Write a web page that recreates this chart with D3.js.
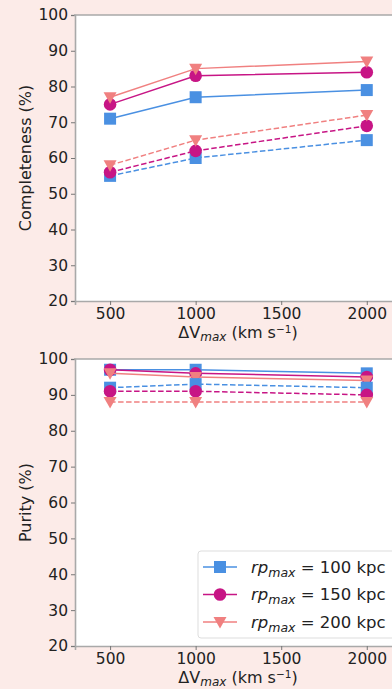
<!DOCTYPE html>
<html>
<head>
<meta charset="utf-8">
<script src="https://cdn.jsdelivr.net/npm/d3@7"></script>
<style>
  body { margin: 0; background: #fcebe8; }
  svg { display: block; font-family: "DejaVu Sans", sans-serif; }
</style>
</head>
<body>
<div id="chart"></div>
<script>
// x values (Delta V_max, km/s)
let dvmax = [500, 1000, 2000];
let yTicks = [20, 30, 40, 50, 60, 70, 80, 90, 100];
let xTicks = [500, 1000, 1500, 2000];

// series names (rp_max in kpc)
let rpNames = ['100', '150', '200'];

// completeness, solid and dashed
let compSolid100 = [71, 77, 79];
let compSolid150 = [75, 83, 84];
let compSolid200 = [77, 85, 87];
let compDash100 = [55, 60, 65];
let compDash150 = [56, 62, 69];
let compDash200 = [58, 65, 72];

// purity, solid and dashed
let purSolid100 = [97, 97, 96];
let purSolid150 = [97, 96, 95];
let purSolid200 = [96, 95, 94];
let purDash100 = [92, 93, 92];
let purDash150 = [91, 91, 90];
let purDash200 = [88, 88, 88];

let width = 392;
let height = 689;
let colors = { '100': '#4a90e2', '150': '#c71585', '200': '#f08080' };

let svg = d3.select('#chart')
    .append('svg')
    .attr('width', width)
    .attr('height', height);

svg.append('rect').attr('width', width).attr('height', height).attr('fill', '#fcebe8');

let x = d3.scaleLinear().domain([295, 2200]).range([75, 401]);

function marker(g, key, cx, cy) {
    let c = colors[key];
    if (key == '200') {
        g.append('path')
            .attr('d', 'M' + (cx - 6.5) + ',' + (cy - 5) + 'L' + (cx + 6.5) + ',' + (cy - 5) + 'L' + cx + ',' + (cy + 6.5) + 'Z')
            .attr('fill', c);
    } else if (key == '100') {
        g.append('rect').attr('x', cx - 6).attr('y', cy - 6).attr('width', 12).attr('height', 12).attr('fill', c);
    } else {
        g.append('circle').attr('cx', cx).attr('cy', cy).attr('r', 6.3).attr('fill', c);
    }
}

function panel(top, bottom, series, ylabel) {
    let y = d3.scaleLinear().domain([20, 100]).range([bottom, top]);
    let g = svg.append('g');

    g.append('rect')
        .attr('x', 75).attr('y', top)
        .attr('width', width - 75 + 10).attr('height', bottom - top)
        .attr('fill', 'white');

    let line = d3.line().x((d, i) => x(dvmax[i])).y(d => y(d));

    series.forEach(s => {
        g.append('path')
            .datum(s.values)
            .attr('d', line)
            .attr('fill', 'none')
            .attr('stroke', colors[s.key])
            .attr('stroke-width', 1.5)
            .attr('stroke-dasharray', s.dash ? '5.5,2.5' : null);
        s.values.forEach((v, i) => marker(g, s.key, x(dvmax[i]), y(v)));
    });

    // axes
    let ya = g.append('g').attr('transform', 'translate(75,0)')
        .call(d3.axisLeft(y).tickValues(yTicks).tickSize(4).tickPadding(3).tickFormat(d3.format('d')));
    let xa = g.append('g').attr('transform', 'translate(0,' + bottom + ')')
        .call(d3.axisBottom(x).tickValues(xTicks).tickSize(4).tickPadding(3).tickFormat(d3.format('d')));
    [ya, xa].forEach(a => {
        a.select('.domain').attr('stroke', '#a9a9a9').attr('stroke-width', 1.6);
        a.selectAll('.tick line').attr('stroke', '#777');
        a.selectAll('text').attr('fill', '#222').style('font-size', '15.5px').style('font-family', 'DejaVu Sans');
    });
    g.append('line').attr('x1', 74).attr('x2', width).attr('y1', top).attr('y2', top)
        .attr('stroke', '#a9a9a9').attr('stroke-width', 1.6);

    g.append('text')
        .attr('transform', 'translate(31,' + ((top + bottom) / 2) + ') rotate(-90)')
        .attr('text-anchor', 'middle')
        .attr('fill', '#222')
        .style('font-size', '16px')
        .text(ylabel);

    let xl = g.append('text')
        .attr('x', 238).attr('y', bottom + 36.5)
        .attr('text-anchor', 'middle')
        .attr('fill', '#222')
        .style('font-size', '16px');
    xl.append('tspan').text('ΔV');
    xl.append('tspan').attr('font-style', 'italic').attr('font-size', '12px').attr('dy', 3.5).text('max');
    xl.append('tspan').attr('dy', -3.5).text(' (km s');
    xl.append('tspan').attr('font-size', '10.5px').attr('dy', -5).text('−1');
    xl.append('tspan').attr('dy', 5).text(')');
    return y;
}

panel(15, 301, [
    { key: '100', values: compSolid100 },
    { key: '150', values: compSolid150 },
    { key: '200', values: compSolid200 },
    { key: '100', values: compDash100, dash: true },
    { key: '150', values: compDash150, dash: true },
    { key: '200', values: compDash200, dash: true }
], 'Completeness (%)');

panel(359, 646, [
    { key: '100', values: purSolid100 },
    { key: '150', values: purSolid150 },
    { key: '200', values: purSolid200 },
    { key: '100', values: purDash100, dash: true },
    { key: '150', values: purDash150, dash: true },
    { key: '200', values: purDash200, dash: true }
], 'Purity (%)');

// legend
let legend = svg.append('g');
legend.append('rect')
    .attr('x', 198).attr('y', 551).attr('width', 205).attr('height', 87).attr('rx', 3)
    .attr('fill', 'white').attr('stroke', '#ddd').attr('stroke-width', 1);
rpNames.forEach((k, i) => {
    let ly = 567 + i * 27.5;
    legend.append('line').attr('x1', 203).attr('x2', 237).attr('y1', ly).attr('y2', ly)
        .attr('stroke', colors[k]).attr('stroke-width', 1.5);
    marker(legend, k, 220, ly);
    let t = legend.append('text').attr('x', 251).attr('y', ly + 5.5)
        .attr('fill', '#222').style('font-size', '16.5px');
    t.append('tspan').attr('font-style', 'italic').text('rp');
    t.append('tspan').attr('font-style', 'italic').attr('font-size', '12.5px').attr('dy', 4).text('max');
    t.append('tspan').attr('dy', -4).text(' = ' + k + ' kpc');
});
</script>
</body>
</html>
